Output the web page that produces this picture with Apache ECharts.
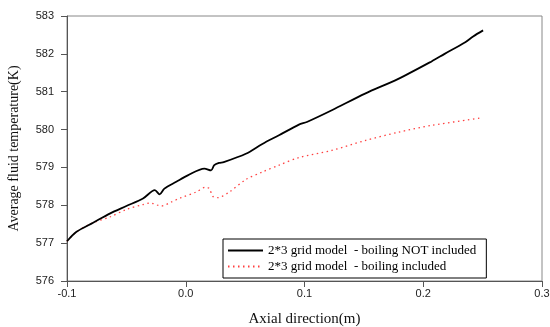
<!DOCTYPE html>
<html>
<head>
<meta charset="utf-8">
<script src="https://cdn.jsdelivr.net/npm/echarts@6/dist/echarts.min.js"></script>
<style>
  html, body { margin: 0; padding: 0; background: #fff; }
  #chart { width: 550px; height: 327px; }
</style>
</head>
<body>
<div id="chart"></div>
<script>
// boiling NOT included (black solid)
const noBoilX = [-0.1, -0.092, -0.078, -0.064, -0.05, -0.036, -0.026, -0.022, -0.018, -0.008, 0.0017,
  0.0157, 0.0213, 0.024, 0.028, 0.032, 0.0506, 0.0645, 0.0785, 0.0953, 0.102, 0.123, 0.151, 0.179,
  0.207, 0.218, 0.235, 0.242, 0.2504];
const noBoilY = [577.05, 577.3, 577.54, 577.78, 577.98, 578.18, 578.4, 578.29, 578.44, 578.62, 578.79,
  578.97, 578.92, 579.06, 579.12, 579.14, 579.36, 579.62, 579.85, 580.13, 580.2, 580.51, 580.95, 581.34,
  581.8, 582.0, 582.3, 582.46, 582.62];

// boiling included (red dotted)
const boilX = [-0.1, -0.092, -0.078, -0.064, -0.05, -0.036, -0.03, -0.0206, -0.012, -0.004, 0.0087,
  0.017, 0.0199, 0.0227, 0.0268, 0.0366, 0.0506, 0.0645, 0.0785, 0.0953, 0.123, 0.151, 0.179,
  0.207, 0.249];
const boilY = [577.05, 577.3, 577.54, 577.69, 577.89, 578.02, 578.06, 577.98, 578.09, 578.2, 578.35,
  578.48, 578.44, 578.24, 578.2, 578.35, 578.68, 578.88, 579.06, 579.26, 579.45, 579.71, 579.93,
  580.11, 580.31];

const seriesNames = ['2*3 grid model  - boiling NOT included', '2*3 grid model  - boiling included'];

const chart = echarts.init(document.getElementById('chart'), null, { renderer: 'canvas' });

const axisText = { color: '#222', fontFamily: 'Liberation Sans, Arial, sans-serif', fontSize: 11 };

chart.setOption({
  animation: false,
  grid: {
    left: 67, right: 8, top: 16, bottom: 46,
    outerBoundsMode: 'none',
    show: true, borderColor: '#888', borderWidth: 1
  },
  xAxis: {
    type: 'value',
    min: -0.1,
    max: 0.3,
    interval: 0.1,
    name: 'Axial direction(m)',
    nameLocation: 'middle',
    nameGap: 31,
    nameTextStyle: { fontFamily: 'Liberation Serif, serif', fontSize: 15, color: '#111' },
    axisLine: { onZero: false, lineStyle: { color: '#555', width: 1 } },
    axisTick: { show: true, length: 6, inside: false, lineStyle: { color: '#555' } },
    axisLabel: Object.assign({ margin: 7, formatter: v => (Math.round(v * 10) / 10).toFixed(1) }, axisText),
    splitLine: { show: false }
  },
  yAxis: {
    type: 'value',
    min: 576,
    max: 583,
    interval: 1,
    name: 'Average fluid temperature(K)',
    nameLocation: 'middle',
    nameGap: 46,
    nameTextStyle: { fontFamily: 'Liberation Serif, serif', fontSize: 14, color: '#111' },
    axisLine: { show: true, onZero: false, lineStyle: { color: '#555', width: 1 } },
    axisTick: { show: true, length: 6, lineStyle: { color: '#555' } },
    axisLabel: Object.assign({ margin: 13 }, axisText),
    splitLine: { show: false }
  },
  legend: {
    orient: 'vertical',
    left: 223,
    top: 239,
    backgroundColor: '#fff',
    borderColor: '#000',
    borderWidth: 1,
    borderRadius: 0,
    padding: [5, 10, 5, 4],
    itemWidth: 35,
    itemHeight: 14,
    itemGap: 3,
    itemStyle: { opacity: 0 },
    textStyle: { fontFamily: 'Liberation Serif, serif', fontSize: 13, color: '#000' },
    data: seriesNames
  },
  series: [
    {
      name: seriesNames[0],
      type: 'line',
      symbol: 'none',
      smooth: 0.3,
      color: '#000',
      lineStyle: { color: '#000', width: 1.8 },
      data: noBoilX.map((x, i) => [x, noBoilY[i]]),
      z: 3
    },
    {
      name: seriesNames[1],
      type: 'line',
      symbol: 'none',
      smooth: 0.3,
      color: '#ff4040',
      lineStyle: { color: '#ff4040', width: 1.3, type: [1.5, 3.5] },
      data: boilX.map((x, i) => [x, boilY[i]]),
      z: 2
    }
  ]
});
</script>
</body>
</html>
